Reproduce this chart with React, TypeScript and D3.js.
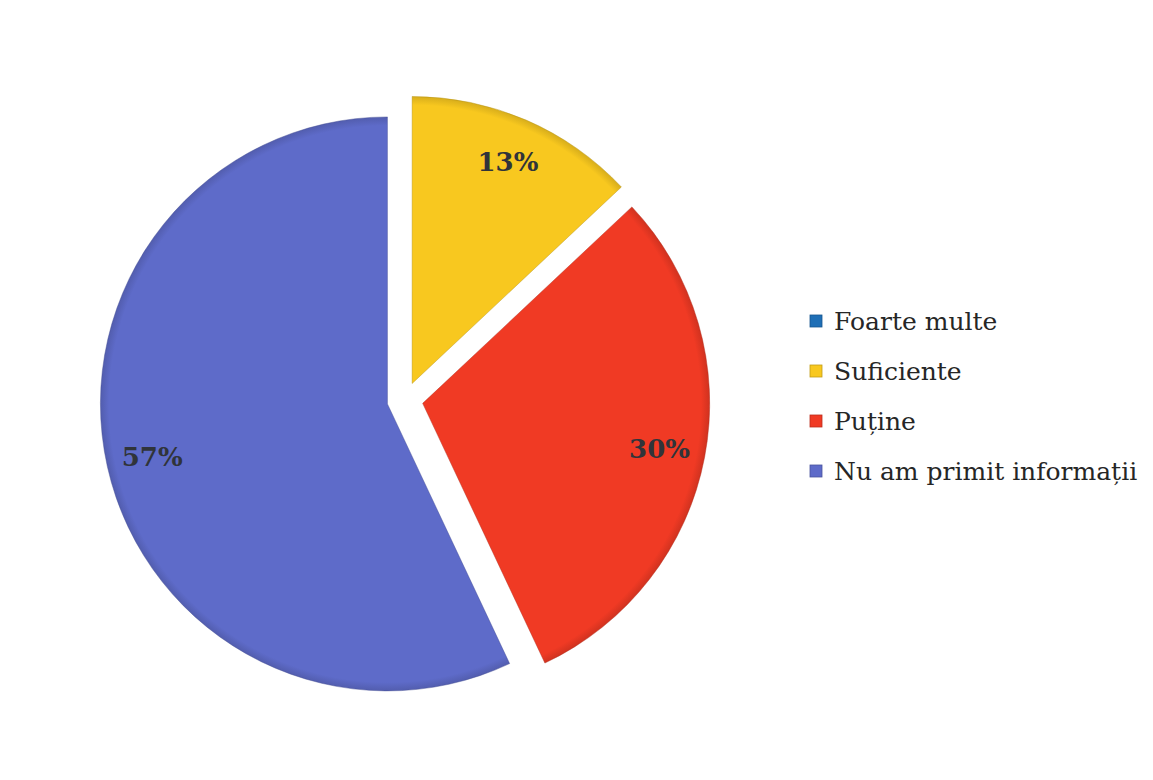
import React, { useMemo } from 'react';
import * as d3 from 'd3';

const categories = ['Foarte multe', 'Suficiente', 'Puține', 'Nu am primit informații'];
const shares = [0, 13, 30, 57];
const sliceColors = ['#1f6fb6', '#f8c81f', '#f03a24', '#5e6bc9'];

const W = 1153;
const H = 780;
const cx = 405;
const cy = 400;
const radius = 287;
const explode = 18;

interface Slice {
  name: string;
  value: number;
  color: string;
}

const App: React.FC = () => {
  const slices: Slice[] = categories.map((name, i) => ({ name, value: shares[i], color: sliceColors[i] }));

  const arcs = useMemo(
    () => d3.pie<Slice>().sort(null).value((d) => d.value).startAngle(0).endAngle(2 * Math.PI)(slices),
    []
  );

  const arcGen = d3.arc<d3.PieArcDatum<Slice>>().innerRadius(0).outerRadius(radius);
  const legendY = d3.scalePoint<string>().domain(categories).range([321, 471]);

  return (
    <svg
      width={W}
      height={H}
      style={{ position: 'absolute', left: 0, top: 0, background: '#fff' }}
    >
      <defs>
        {slices.map((s, i) => (
          <radialGradient key={i} id={`shade-${i}`} cx="0" cy="0" r={radius} gradientUnits="userSpaceOnUse">
            <stop offset="0%" stopColor={s.color} />
            <stop offset="97%" stopColor={s.color} />
            <stop offset="100%" stopColor={d3.color(s.color)!.darker(0.4).formatHex()} />
          </radialGradient>
        ))}
      </defs>
      <rect width={W} height={H} fill="#fff" />
      {arcs.map((a, i) => {
        if (a.value === 0) return null;
        const mid = (a.startAngle + a.endAngle) / 2;
        const ox = cx + Math.sin(mid) * explode;
        const oy = cy - Math.cos(mid) * explode;
        // excel nudges the big slice label a bit lower
        const lr = radius * 0.84;
        const lx = Math.sin(mid) * lr;
        const ly = -Math.cos(mid) * lr;
        return (
          <g key={i} transform={`translate(${ox},${oy})`}>
            <path
              d={arcGen(a) ?? ''}
              fill={`url(#shade-${i})`}
              stroke={d3.color(a.data.color)!.darker(0.9).formatHex()}
              strokeWidth={0.8}
              strokeOpacity={0.55}
            />
            <text
              x={lx}
              y={ly}
              textAnchor="middle"
              dominantBaseline="central"
              fontFamily="'DejaVu Serif', serif"
              fontWeight="bold"
              fontSize={26}
              fill="#30343a"
            >
              {`${a.value}%`}
            </text>
          </g>
        );
      })}
      <g>
        {slices.map((s) => {
          const y = legendY(s.name) ?? 0;
          return (
            <g key={s.name}>
              <rect
                x={810}
                y={y - 6}
                width={12}
                height={12}
                fill={s.color}
                stroke={d3.color(s.color)!.darker(0.7).formatHex()}
                strokeWidth={0.8}
              />
              <text
                x={834}
                y={y}
                dominantBaseline="central"
                fontFamily="'DejaVu Serif', serif"
                fontSize={25}
                fill="#262626"
              >
                {s.name}
              </text>
            </g>
          );
        })}
      </g>
    </svg>
  );
};

export default App;
